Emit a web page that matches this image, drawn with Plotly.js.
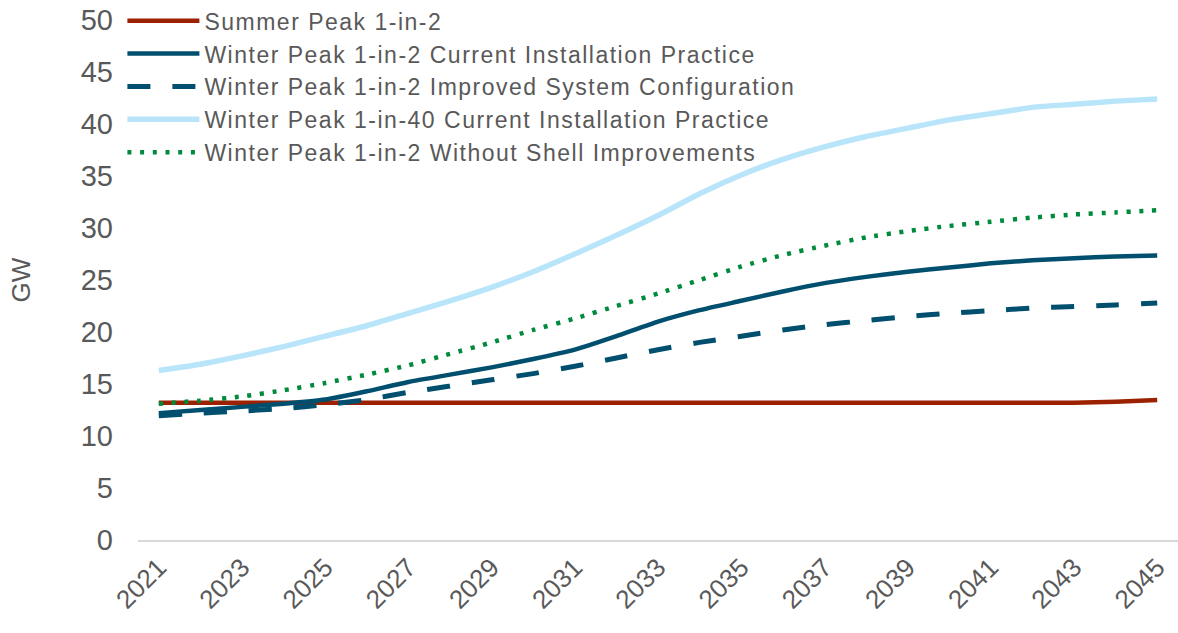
<!DOCTYPE html>
<html>
<head>
<meta charset="utf-8">
<script src="https://cdn.plot.ly/plotly-3.0.1.min.js"></script>
<style>
html,body{margin:0;padding:0;background:#fff;}
#chart{width:1178px;height:633px;}
#chart .legendtext{letter-spacing:1.5px;}
#chart .legend .scrollbox{clip-path:none !important;}
</style>
</head>
<body>
<div id="chart"></div>
<script>
const years = [2021,2022,2023,2024,2025,2026,2027,2028,2029,2030,2031,2032,2033,2034,2035,2036,2037,2038,2039,2040,2041,2042,2043,2044,2045];
const tickYears = [2021,2023,2025,2027,2029,2031,2033,2035,2037,2039,2041,2043,2045];
const tickLabels = ["2021","2023","2025","2027","2029","2031","2033","2035","2037","2039","2041","2043","2045"];

const summerPeak = [13.2,13.2,13.2,13.2,13.2,13.2,13.2,13.2,13.2,13.2,13.2,13.2,13.2,13.2,13.2,13.2,13.2,13.2,13.2,13.2,13.2,13.2,13.2,13.3,13.45];
const winterCurrent = [12.2,12.5,12.8,13.1,13.5,14.3,15.2,15.9,16.6,17.4,18.3,19.6,21.0,22.1,23.0,23.9,24.7,25.3,25.8,26.2,26.6,26.9,27.1,27.25,27.35];
const winterImproved = [11.95,12.2,12.4,12.65,13.0,13.5,14.2,14.8,15.4,16.0,16.7,17.5,18.3,19.0,19.6,20.2,20.7,21.1,21.5,21.8,22.05,22.3,22.45,22.6,22.8];
const winter1in40 = [16.3,16.9,17.7,18.6,19.6,20.6,21.8,23.0,24.3,25.8,27.5,29.3,31.2,33.3,35.1,36.6,37.8,38.8,39.6,40.4,41.0,41.6,41.9,42.2,42.4];
const winterNoShell = [13.1,13.4,13.8,14.4,15.1,15.9,16.8,17.9,19.0,20.2,21.3,22.5,23.7,25.0,26.3,27.4,28.3,29.1,29.7,30.2,30.6,31.0,31.3,31.5,31.7];

const names = [
  "Summer Peak 1-in-2",
  "Winter Peak 1-in-2 Current Installation Practice",
  "Winter Peak 1-in-2 Improved System Configuration",
  "Winter Peak 1-in-40 Current Installation Practice",
  "Winter Peak 1-in-2 Without Shell Improvements"
];

const FONT = "Arial, 'Liberation Sans', sans-serif";
const GREY = "#595959";
const SH = "spline", SM = 0.5;

const traces = [
  {x: years, y: summerPeak, name: names[0], mode: "lines", line: {color: "#9C2100", width: 4.5, shape: SH, smoothing: SM}},
  {x: years, y: winterCurrent, name: names[1], mode: "lines", line: {color: "#004F6E", width: 4.5, shape: SH, smoothing: SM}},
  {x: years, y: winterImproved, name: names[2], mode: "lines", line: {color: "#004F6E", width: 5, dash: "23px,22px", shape: SH, smoothing: SM}},
  {x: years, y: winter1in40, name: names[3], mode: "lines", line: {color: "#B8E5FA", width: 5.5, shape: SH, smoothing: SM}},
  {x: years, y: winterNoShell, name: names[4], mode: "lines", line: {color: "#008A3C", width: 4.5, dash: "4px,8.7px", shape: SH, smoothing: SM}}
];

const layout = {
  width: 1178, height: 633,
  margin: {l: 138, r: 0, t: 20, b: 93, autoexpand: false},
  paper_bgcolor: "#ffffff", plot_bgcolor: "#ffffff",
  font: {family: FONT, color: GREY, size: 23},
  showlegend: true,
  legend: {x: -0.015, y: 1.04, xanchor: "left", yanchor: "top", bgcolor: "rgba(0,0,0,0)",
           font: {family: FONT, size: 23, color: GREY}, tracegroupgap: 0, itemwidth: 72},
  xaxis: {
    range: [2020.5, 2045.5], tickmode: "array", tickvals: tickYears, ticktext: tickLabels,
    tickangle: -45, tickfont: {family: FONT, size: 26, color: GREY},
    showgrid: false, zeroline: false, showline: true, linecolor: "#D9D9D9", linewidth: 2,
    ticks: "", fixedrange: true
  },
  yaxis: {
    range: [0, 50], tickmode: "linear", tick0: 0, dtick: 5,
    tickfont: {family: FONT, size: 29, color: GREY}, ticklabelstandoff: 24,
    showgrid: false, zeroline: false, showline: false, ticks: "",
    title: {text: "GW", font: {family: FONT, size: 26, color: GREY}, standoff: 42},
    fixedrange: true
  }
};

Plotly.newPlot("chart", traces, layout, {displayModeBar: false, staticPlot: true});
</script>
</body>
</html>
